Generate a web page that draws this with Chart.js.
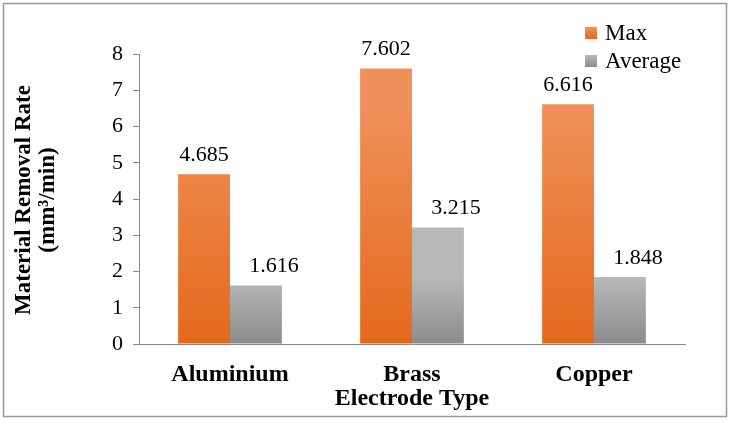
<!DOCTYPE html>
<html>
  <head>
    <script src="https://cdn.jsdelivr.net/npm/chart.js"></script>
    <style>
      body { margin: 0; background: white; }
      #wrap { position: absolute; left: 0; top: 0; width: 732px; height: 423px; }
    </style>
  </head>
  <body>
    <div id="wrap"><canvas id="mrrChart" width="732" height="423"></canvas></div>
    <script>
      const categories = ['Aluminium', 'Brass', 'Copper'];
      const maxValues = [4.685, 7.602, 6.616];
      const avgValues = [1.616, 3.215, 1.848];
      const seriesNames = ['Max', 'Average'];
      const yTicks = [0, 1, 2, 3, 4, 5, 6, 7, 8];

      const SERIF = '"Liberation Serif", "Times New Roman", serif';
      const fills = [
        { top: '#f0915b', bottom: '#e4691c' },
        { top: '#b8b8b8', bottom: '#8c8c8c' }
      ];
      // average labels sit a little right of their bars in the original
      const labelShift = [0, 18];

      function vGrad(ctx, y0, y1, c) {
        const g = ctx.createLinearGradient(0, y0, 0, y1);
        g.addColorStop(0, c.top);
        g.addColorStop(1, c.bottom);
        return g;
      }

      // per-bar gradient, labels, legend, titles and frame
      const decor = {
        id: 'decor',
        beforeDatasetsDraw(chart) {
          const ctx = chart.ctx;
          chart.data.datasets.forEach((ds, i) => {
            chart.getDatasetMeta(i).data.forEach(bar => {
              bar.options.backgroundColor = vGrad(ctx, bar.y, bar.base, fills[i]);
            });
          });
        },
        afterDatasetsDraw(chart) {
          const ctx = chart.ctx;
          ctx.save();
          ctx.fillStyle = '#000';
          ctx.font = '22px ' + SERIF;
          ctx.textAlign = 'center';
          ctx.textBaseline = 'alphabetic';
          chart.data.datasets.forEach((ds, i) => {
            chart.getDatasetMeta(i).data.forEach((bar, j) => {
              ctx.fillText(ds.data[j].toFixed(3), bar.x + labelShift[i], bar.y - 13);
            });
          });
          ctx.restore();
        },
        afterDraw(chart) {
          const ctx = chart.ctx;
          ctx.save();
          // legend
          ctx.font = '23px ' + SERIF;
          ctx.textBaseline = 'middle';
          ctx.textAlign = 'left';
          seriesNames.forEach((name, i) => {
            const cy = 33 + i * 28;
            ctx.fillStyle = vGrad(ctx, cy - 6, cy + 6, fills[i]);
            ctx.fillRect(585, cy - 6, 12, 12);
            ctx.fillStyle = '#000';
            ctx.fillText(name, 605, cy + 1);
          });
          // y title
          ctx.font = 'bold 23px ' + SERIF;
          ctx.textAlign = 'center';
          ctx.save();
          ctx.translate(24, 200);
          ctx.rotate(-Math.PI / 2);
          ctx.fillText('Material Removal Rate', 0, 0);
          ctx.restore();
          ctx.save();
          ctx.translate(48, 200);
          ctx.rotate(-Math.PI / 2);
          ctx.fillText('(mm³/min)', 0, 0);
          ctx.restore();
          // x title
          ctx.font = 'bold 24px ' + SERIF;
          const area = chart.chartArea;
          ctx.fillText('Electrode Type', (area.left + area.right) / 2, 399);
          // frame
          ctx.strokeStyle = '#999999';
          ctx.lineWidth = 1.5;
          ctx.strokeRect(3.5, 3.5, 723, 413);
          ctx.restore();
        }
      };

      new Chart(document.getElementById('mrrChart'), {
        type: 'bar',
        data: {
          labels: categories,
          datasets: [
            { label: seriesNames[0], data: maxValues, backgroundColor: fills[0].top },
            { label: seriesNames[1], data: avgValues, backgroundColor: fills[1].top }
          ]
        },
        options: {
          responsive: false,
          animation: false,
          events: [],
          layout: { padding: { top: 54, right: 47, bottom: 0, left: 0 } },
          datasets: { bar: { categoryPercentage: 0.57, barPercentage: 1.0 } },
          scales: {
            x: {
              afterFit(scale) { scale.height = 79; },
              grid: { display: false },
              border: { display: true, color: '#888888', width: 1 },
              ticks: {
                color: '#000',
                font: { family: SERIF, size: 24, weight: 'bold' },
                padding: 8
              }
            },
            y: {
              min: 0,
              max: 8,
              afterFit(scale) { scale.width = 139; },
              afterBuildTicks(scale) { scale.ticks = yTicks.map(v => ({ value: v })); },
              grid: { drawOnChartArea: false, drawTicks: true, tickLength: 6, color: '#888888' },
              border: { display: true, color: '#888888', width: 1 },
              ticks: {
                color: '#000',
                font: { family: SERIF, size: 22 },
                padding: 10
              }
            }
          },
          plugins: {
            legend: { display: false },
            tooltip: { enabled: false }
          }
        },
        plugins: [decor]
      });
    </script>
  </body>
</html>
